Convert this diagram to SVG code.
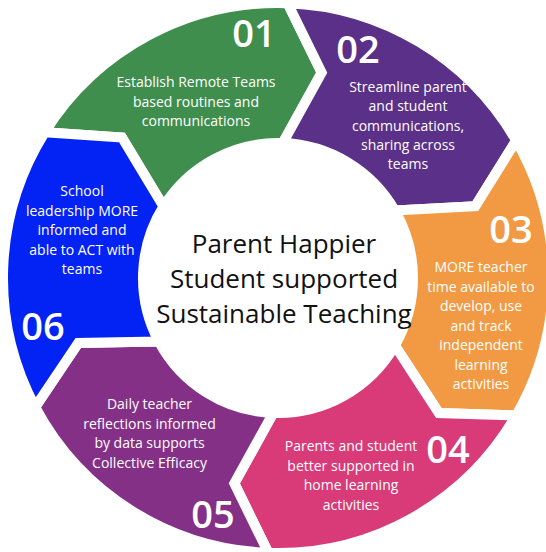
<svg xmlns="http://www.w3.org/2000/svg" width="546" height="552" viewBox="0 0 546 552">
<style>
.seg{stroke:#ffffff;stroke-width:10;stroke-linejoin:miter}
.lbl{font-family:"Open Sans","Liberation Sans",sans-serif;font-size:14px;fill:#ffffff;text-anchor:middle}
.num{font-family:"Open Sans","Liberation Sans",sans-serif;font-size:38px;font-weight:600;fill:#ffffff;text-anchor:middle}
.ctr{font-family:"Open Sans","Liberation Sans",sans-serif;font-size:26px;fill:#111111;text-anchor:middle}
</style>
<rect width="546" height="552" fill="#ffffff"/>
<g id="step01">
<path class="seg" fill="#3f8e4e" d="M44.79,132.27 A275,275 0 0 1 287.60,3.17 L321.66,72.59 L282.71,143.08 A135,135 0 0 0 163.51,206.46 L121.94,137.48 Z"/>
<text class="num" x="254" y="47">01</text>
<text class="lbl" x="196" y="87">Establish Remote Teams</text>
<text class="lbl" x="196" y="106.5">based routines and</text>
<text class="lbl" x="196" y="126">communications</text>
</g>
<g id="step02">
<path class="seg" fill="#5b3088" d="M287.60,3.17 A275,275 0 0 1 516.16,140.50 L475.34,206.18 L394.91,210.50 A135,135 0 0 0 282.71,143.08 L321.66,72.59 Z"/>
<text class="num" x="358" y="63">02</text>
<text class="lbl" x="408" y="92">Streamline parent</text>
<text class="lbl" x="408" y="111">and student</text>
<text class="lbl" x="408" y="130.5">communications,</text>
<text class="lbl" x="408" y="150">sharing across</text>
<text class="lbl" x="408" y="169">teams</text>
</g>
<g id="step03">
<path class="seg" fill="#f29a43" d="M516.16,140.50 A275,275 0 0 1 516.16,415.50 L438.87,412.99 L394.91,345.50 A135,135 0 0 0 394.91,210.50 L475.34,206.18 Z"/>
<text class="num" x="511" y="243">03</text>
<text class="lbl" x="481" y="272">MORE teacher</text>
<text class="lbl" x="481" y="291.5">time available to</text>
<text class="lbl" x="481" y="311">develop, use</text>
<text class="lbl" x="481" y="330.5">and track</text>
<text class="lbl" x="481" y="350">independent</text>
<text class="lbl" x="481" y="369.5">learning</text>
<text class="lbl" x="481" y="389">activities</text>
</g>
<g id="step04">
<path class="seg" fill="#d93a78" d="M516.16,415.50 A275,275 0 0 1 268.40,552.83 L234.34,483.41 L273.29,412.92 A135,135 0 0 0 394.91,345.50 L438.87,412.99 Z"/>
<text class="num" x="448" y="463">04</text>
<text class="lbl" x="351" y="451">Parents and student</text>
<text class="lbl" x="351" y="470.5">better supported in</text>
<text class="lbl" x="351" y="490">home learning</text>
<text class="lbl" x="351" y="509.5">activities</text>
</g>
<g id="step05">
<path class="seg" fill="#853087" d="M268.40,552.83 A275,275 0 0 1 35.19,407.10 L78.28,342.89 L158.80,341.38 A135,135 0 0 0 273.29,412.92 L234.34,483.41 Z"/>
<text class="num" x="213" y="528">05</text>
<text class="lbl" x="149.5" y="409">Daily teacher</text>
<text class="lbl" x="149.5" y="428.5">reflections informed</text>
<text class="lbl" x="149.5" y="448">by data supports</text>
<text class="lbl" x="149.5" y="467.5">Collective Efficacy</text>
</g>
<g id="step06">
<path class="seg" fill="#0322f4" d="M35.19,407.10 A275,275 0 0 1 44.79,132.27 L121.94,137.48 L163.51,206.46 A135,135 0 0 0 158.80,341.38 L78.28,342.89 Z"/>
<text class="num" x="43" y="340">06</text>
<text class="lbl" x="82" y="196">School</text>
<text class="lbl" x="82" y="215.5">leadership MORE</text>
<text class="lbl" x="82" y="235">informed and</text>
<text class="lbl" x="82" y="254.5">able to ACT with</text>
<text class="lbl" x="82" y="274">teams</text>
</g>
<g id="center">
<text class="ctr" x="284" y="253">Parent Happier</text>
<text class="ctr" x="284" y="288">Student supported</text>
<text class="ctr" x="284" y="323">Sustainable Teaching</text>
</g>
<g id="connectors"></g>
</svg>
